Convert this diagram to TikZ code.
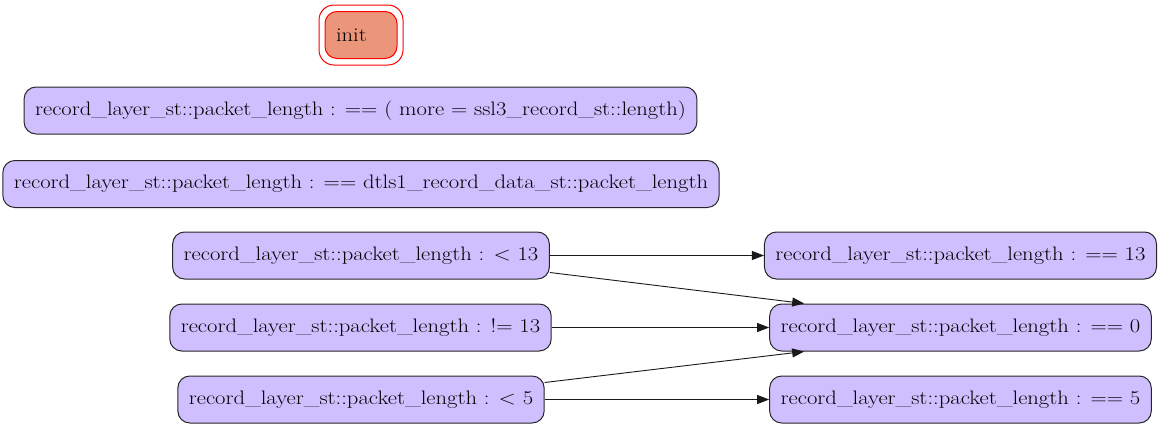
\documentclass[tikz,border=0pt]{standalone}
\usepackage{fontspec}
\setmainfont{Latin Modern Roman}[FakeStretch=1.16]
\usetikzlibrary{arrows.meta}
\definecolor{stfill}{HTML}{D0BFFF}
\definecolor{initfill}{HTML}{EB967A}
\tikzset{state/.style = {shape=rectangle,draw=black!85,line width=1pt,rounded corners=12pt,fill=stfill,
  minimum height=47pt,inner xsep=11pt,font=\fontsize{19.5}{22}\selectfont}}
\tikzset{edge/.style = {-{Triangle[length=12pt,width=9pt]},line width=0.9pt,color=black!90}}

\begin{document}
\begin{tikzpicture}[x=1pt,y=-1pt]
  \useasboundingbox (0,0) rectangle (1163,429);
  \node[state,fill=initfill,draw=red,minimum width=72pt,text width=50pt] (init) at (361, 35) {init};
  \draw[red,line width=1pt,rounded corners=15pt] (319,5) rectangle (403,65);
  \node[state] (more) at (360.5, 110.5) {record\_layer\_st::packet\_length : == ( more = ssl3\_record\_st::length)};
  \node[state] (dtls) at (361, 184) {record\_layer\_st::packet\_length : == dtls1\_record\_data\_st::packet\_length};
  \node[state] (lt13) at (361, 255.5) {record\_layer\_st::packet\_length : < 13};
  \node[state] (ne13) at (360.5, 327.5) {record\_layer\_st::packet\_length : != 13};
  \node[state] (lt5) at (361, 399.5) {record\_layer\_st::packet\_length : < 5};
  \node[state] (eq13) at (960.5, 255.5) {record\_layer\_st::packet\_length : == 13};
  \node[state] (eq0) at (960.5, 327.5) {record\_layer\_st::packet\_length : == 0};
  \node[state] (eq5) at (960.5, 399.5) {record\_layer\_st::packet\_length : == 5};

  \path[edge] (lt13) edge (eq13);
  \path[edge] ([yshift=-17pt]lt13.east) edge ([xshift=35pt]eq0.north west);
  \path[edge] (ne13) edge (eq0);
  \path[edge] ([yshift=17pt]lt5.east) edge ([xshift=35pt]eq0.south west);
  \path[edge] (lt5) edge (eq5);
\end{tikzpicture}
\end{document}
